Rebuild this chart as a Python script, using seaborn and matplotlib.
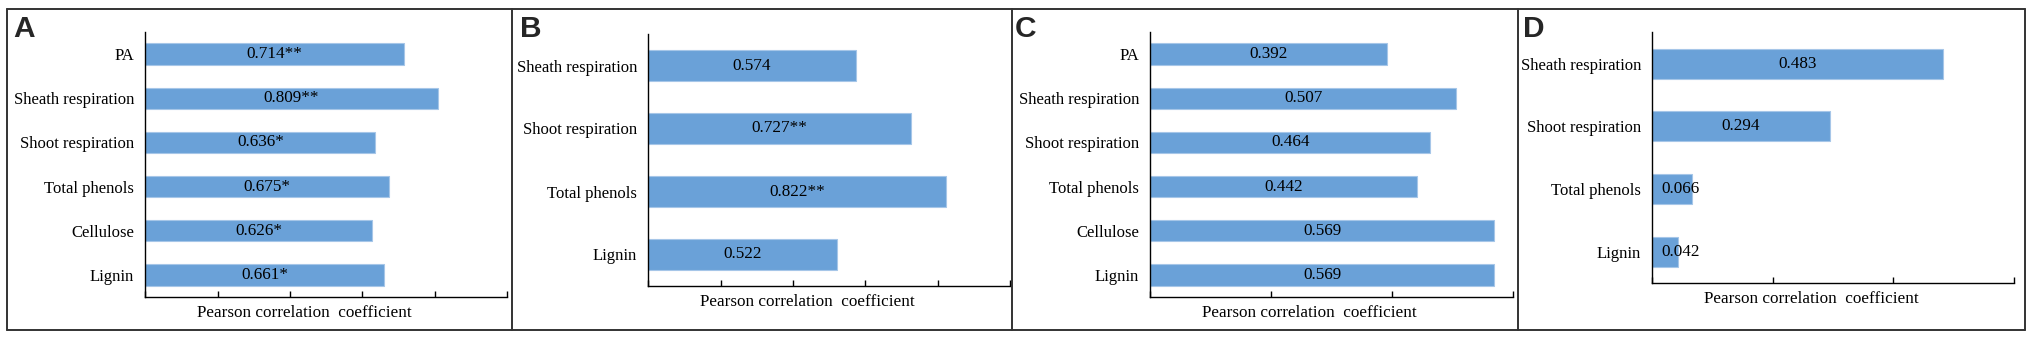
import numpy as np
import pandas as pd
import matplotlib.pyplot as plt
import seaborn as sns
from matplotlib.lines import Line2D

sns.set_theme(style="white")
plt.rcParams['font.family'] = ['Liberation Serif', 'DejaVu Serif']

# Panel data
cats_a = ["PA", "Sheath respiration", "Shoot respiration", "Total phenols", "Cellulose", "Lignin"]
vals_a = [0.714, 0.809, 0.636, 0.675, 0.626, 0.661]
stars_a = ["**", "**", "*", "*", "*", "*"]

cats_b = ["Sheath respiration", "Shoot respiration", "Total phenols", "Lignin"]
vals_b = [0.574, 0.727, 0.822, 0.522]
stars_b = ["", "**", "**", ""]

cats_c = ["PA", "Sheath respiration", "Shoot respiration", "Total phenols", "Cellulose", "Lignin"]
vals_c = [0.392, 0.507, 0.464, 0.442, 0.569, 0.569]
stars_c = ["", "", "", "", "", ""]

cats_d = ["Sheath respiration", "Shoot respiration", "Total phenols", "Lignin"]
vals_d = [0.483, 0.294, 0.066, 0.042]
stars_d = ["", "", "", ""]

letters = ["A", "B", "C", "D"]
xmaxes = [1.0, 1.0, 0.6, 0.6]

BAR = "#6aa1d8"
W, H = 2033, 337

fig = plt.figure(figsize=(W / 100, H / 100), dpi=100)

# axes boxes in pixels: left, right, top, bottom
boxes = [(145.3, 507, 32, 297), (648.3, 1010, 34, 286),
         (1150.3, 1512.5, 32, 297), (1652.3, 2014, 32.3, 283.3)]
letter_x = [13, 520, 1015, 1523]

panels = [(cats_a, vals_a, stars_a), (cats_b, vals_b, stars_b),
          (cats_c, vals_c, stars_c), (cats_d, vals_d, stars_d)]

for i, (cats, vals, stars) in enumerate(panels):
    l, r, t, b = boxes[i]
    ax = fig.add_axes([l / W, (H - b) / H, (r - l) / W, (b - t) / H])
    df = pd.DataFrame({"var": cats, "r": vals})
    sns.barplot(data=df, x="r", y="var", orient="h", color=BAR, saturation=1,
                width=0.48, edgecolor="#a6c6e8", linewidth=0.8, ax=ax)
    xmax = xmaxes[i]
    ax.set_xlim(0, xmax)
    ax.set_ylim(len(cats) - 0.5, -0.5)

    # value labels centred on bars, pushed right when the bar is too short
    for j, (v, s) in enumerate(zip(vals, stars)):
        ax.text(max(v / 2, 0.078 * xmax), j, f"{v:.3f}{s}", ha="center", va="center",
                fontsize=12.3, color="black")

    ax.set_xticks(np.arange(0, xmax + 1e-9, 0.2))
    ax.tick_params(axis="x", direction="in", length=4, width=1, color="black",
                   labelbottom=False, bottom=True)
    ax.tick_params(axis="y", length=0, pad=8, labelsize=12, labelcolor="black")
    ax.set_ylabel("")
    ax.set_xlabel("Pearson correlation  coefficient", fontsize=12.3, color="black")
    ax.xaxis.set_label_coords(0.44, -8 / (b - t))
    for side in ["top", "right"]:
        ax.spines[side].set_visible(False)
    for side in ["left", "bottom"]:
        ax.spines[side].set_color("black")
        ax.spines[side].set_linewidth(1.0)
    ax.set_facecolor("none")

    fig.text(letter_x[i] / W, (H - 36.7) / H, letters[i], fontsize=21.5,
             fontweight="bold", family="Liberation Sans", ha="left", va="baseline")

# outer frame and dividers
def line(x0, y0, x1, y1):
    fig.add_artist(Line2D([x0 / W, x1 / W], [(H - y0) / H, (H - y1) / H],
                          color="#333333", lw=1.4, transform=fig.transFigure))

line(7, 8.5, 2025, 8.5)
line(7, 330, 2025, 330)
for xx in [7, 512.3, 1011.7, 1518.3, 2025]:
    line(xx, 8.5, xx, 330)

fig.savefig("out.png", dpi=100, facecolor="white")
